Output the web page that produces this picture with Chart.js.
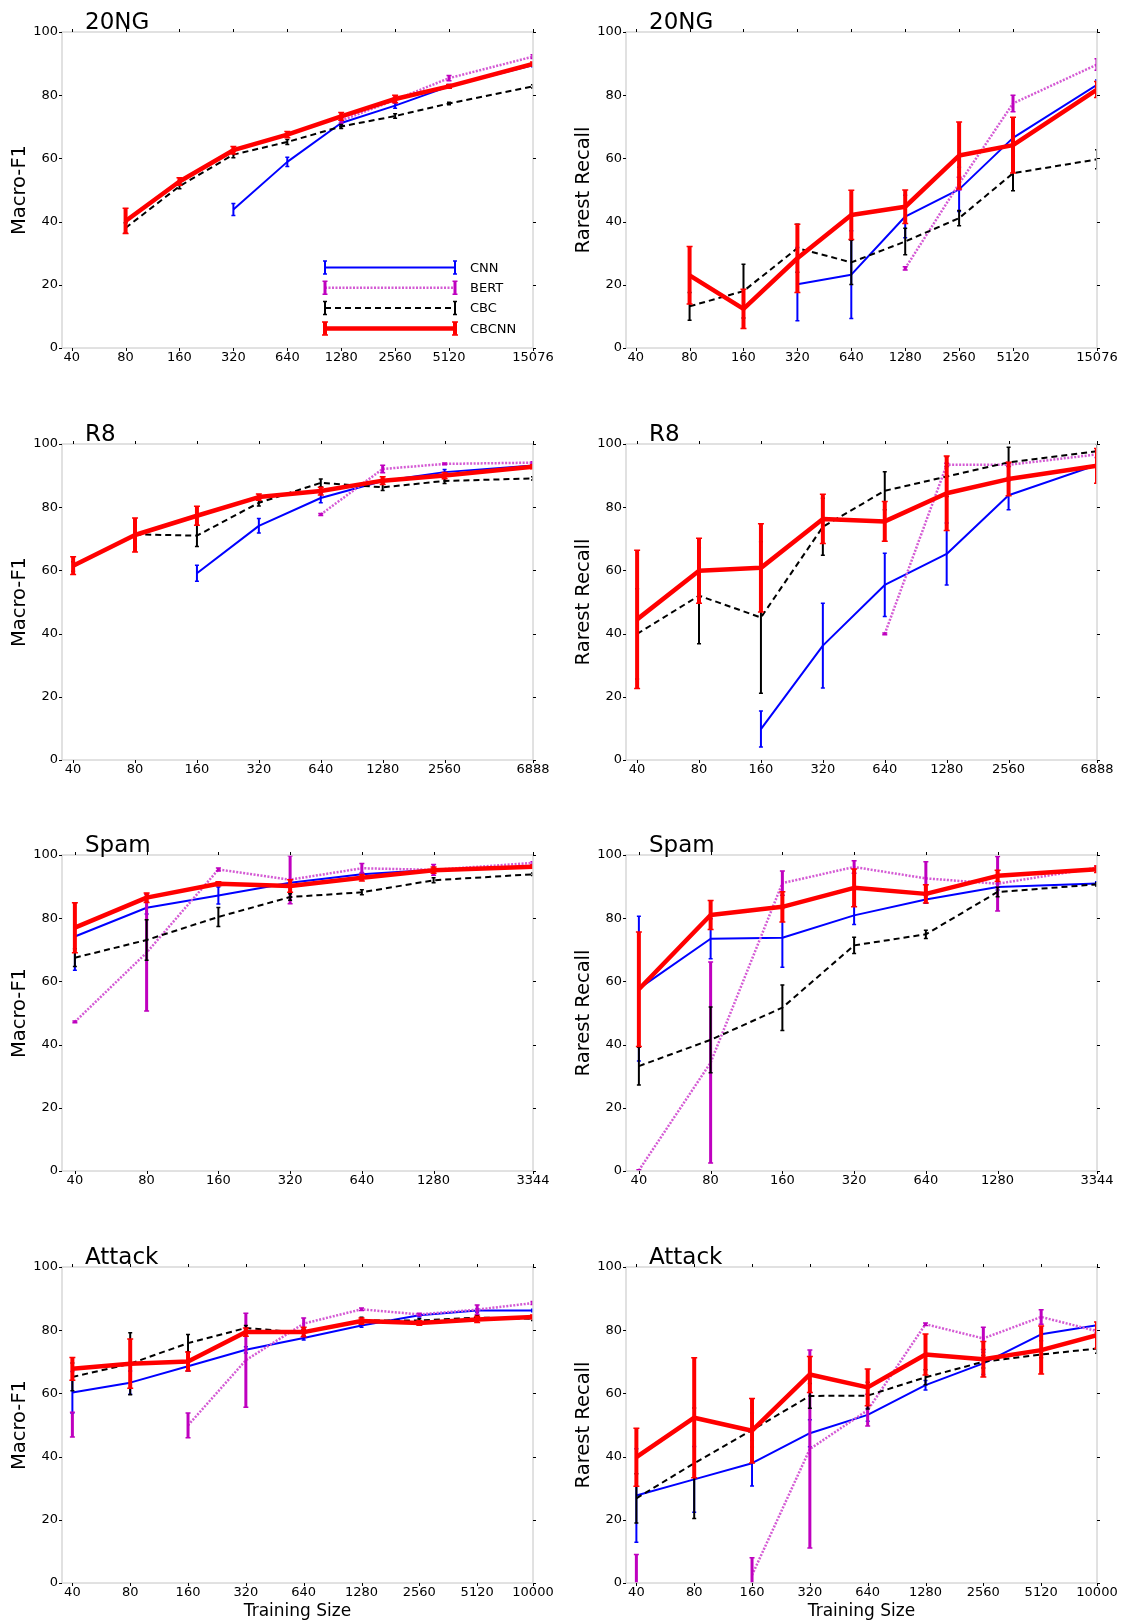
<!DOCTYPE html>
<html>
<head>
<meta charset="utf-8">
<script src="https://cdn.jsdelivr.net/npm/chart.js@4.4.1/dist/chart.umd.min.js"></script>
<style>
  html, body { margin: 0; padding: 0; background: #fff; overflow: hidden; }
  #fig { position: relative; width: 1121px; height: 1621px; overflow: hidden; }
  #fig canvas { position: absolute; }
</style>
</head>
<body>
<div id="fig"></div>
<script>
const FONT = 'DejaVu Sans';
const seriesNames = ['CNN', 'BERT', 'CBC', 'CBCNN'];
const yTicks = [0, 20, 40, 60, 80, 100];

const sizes20NG = [40, 80, 160, 320, 640, 1280, 2560, 5120, 15076];
const sizesR8 = [40, 80, 160, 320, 640, 1280, 2560, 6888];
const sizesSpam = [40, 80, 160, 320, 640, 1280, 3344];
const sizesAttack = [40, 80, 160, 320, 640, 1280, 2560, 5120, 10000];

// 20NG, Macro-F1
const f1_20ng_cnn = [null, null, null, 43.8, 58.9, 71.2, 76.7, 82.8, 89.5];
const f1_20ng_cnn_err = [0, 0, 0, 1.9, 1.5, 0.7, 0.8, 0.6, 0.5];
const f1_20ng_bert = [null, null, null, null, null, 72.0, 78.5, 85.4, 92.2];
const f1_20ng_bert_err = [0, 0, 0, 0, 0, 0.8, 0.8, 0.8, 0.6];
const f1_20ng_cbc = [null, 38.0, 51.2, 61.2, 65.2, 70.1, 73.4, 77.4, 82.8];
const f1_20ng_cbc_err = [0, 1.6, 0.8, 1.0, 0.8, 0.6, 0.7, 0.4, 0.5];
const f1_20ng_cbcnn = [null, 40.2, 52.7, 62.6, 67.5, 73.3, 78.8, 82.8, 89.9];
const f1_20ng_cbcnn_err = [0, 4.0, 1.2, 1.2, 1.0, 1.2, 1.2, 0.6, 0.6];

// 20NG, Rarest Recall
const rr_20ng_cnn = [null, null, null, 20.2, 23.2, 41.6, 50.2, 66.5, 83.3];
const rr_20ng_cnn_err = [0, 0, 0, 11.6, 13.9, 6.7, 7.0, 4.2, 1.5];
const rr_20ng_bert = [null, null, null, null, null, 25.2, 52.0, 77.4, 89.7];
const rr_20ng_bert_err = [0, 0, 0, 0, 0, 0.5, 2.0, 2.6, 1.8];
const rr_20ng_cbc = [null, 13.2, 18.0, 31.6, 27.1, 33.7, 41.1, 55.3, 59.7];
const rr_20ng_cbc_err = [0, 4.4, 8.5, 7.6, 7.0, 4.2, 2.4, 5.5, 3.0];
const rr_20ng_cbcnn = [null, 23.0, 12.4, 28.4, 42.1, 44.7, 60.9, 64.2, 81.8];
const rr_20ng_cbcnn_err = [0, 9.1, 6.2, 10.8, 7.8, 5.3, 10.6, 8.8, 2.5];

// R8, Macro-F1
const f1_r8_cnn = [null, null, 59.1, 74.1, 82.9, 88.3, 91.1, 93.2];
const f1_r8_cnn_err = [0, 0, 2.5, 2.3, 1.5, 0.5, 0.8, 0.4];
const f1_r8_bert = [null, null, null, null, 77.7, 92.1, 93.7, 94.1];
const f1_r8_bert_err = [0, 0, 0, 0, 0.3, 1.2, 0.3, 0.3];
const f1_r8_cbc = [61.2, 71.4, 71.0, 81.4, 87.7, 86.3, 88.3, 89.1];
const f1_r8_cbc_err = [1.5, 3.9, 3.4, 1.0, 1.2, 1.0, 0.8, 0.5];
const f1_r8_cbcnn = [61.5, 71.2, 77.3, 83.2, 85.1, 88.4, 90.0, 92.8];
const f1_r8_cbcnn_err = [2.8, 5.4, 3.0, 1.0, 1.2, 1.2, 1.0, 0.6];

// R8, Rarest Recall
const rr_r8_cnn = [null, null, 9.8, 36.2, 55.4, 65.2, 83.8, 93.4];
const rr_r8_cnn_err = [0, 0, 5.7, 13.4, 10.0, 9.8, 4.6, 1.0];
const rr_r8_bert = [null, null, null, null, 39.9, 93.4, 93.4, 96.7];
const rr_r8_bert_err = [0, 0, 0, 0, 0.3, 0.5, 0.5, 1.0];
const rr_r8_cbc = [39.9, 52.0, 45.1, 73.8, 85.2, 89.7, 94.2, 97.7];
const rr_r8_cbc_err = [14.3, 15.2, 24.0, 9.0, 6.0, 6.3, 4.8, 2.3];
const rr_r8_cbcnn = [44.5, 59.9, 60.8, 76.3, 75.5, 84.4, 88.9, 93.1];
const rr_r8_cbcnn_err = [21.9, 10.3, 14.0, 7.8, 6.3, 11.8, 5.3, 5.5];

// Spam, Macro-F1
const f1_spam_cnn = [74.2, 83.3, 87.2, 91.2, 93.9, 95.3, 96.2];
const f1_spam_cnn_err = [10.7, 2.0, 2.7, 1.0, 0.6, 0.5, 0.4];
const f1_spam_bert = [47.2, 69.1, 95.4, 92.2, 95.8, 95.3, 97.5];
const f1_spam_bert_err = [0.3, 18.5, 0.5, 7.6, 1.5, 1.7, 0.4];
const f1_spam_cbc = [67.5, 73.1, 80.4, 86.7, 88.2, 92.0, 93.9];
const f1_spam_cbc_err = [2.8, 6.4, 3.0, 1.0, 0.8, 0.8, 0.4];
const f1_spam_cbcnn = [77.0, 86.5, 90.9, 90.2, 92.8, 95.2, 96.3];
const f1_spam_cbcnn_err = [7.9, 1.5, 0.6, 2.0, 1.0, 1.0, 0.5];

// Spam, Rarest Recall
const rr_spam_cnn = [57.7, 73.5, 73.8, 80.9, 85.9, 89.9, 91.0];
const rr_spam_cnn_err = [22.9, 6.3, 9.3, 2.9, 1.2, 1.0, 0.5];
const rr_spam_bert = [0.2, 34.3, 91.1, 96.2, 92.6, 90.9, 96.0];
const rr_spam_bert_err = [0.2, 31.8, 3.8, 2.0, 5.3, 8.6, 0.5];
const rr_spam_cbc = [33.2, 41.5, 51.7, 71.4, 74.9, 88.3, 90.7];
const rr_spam_cbc_err = [6.0, 10.4, 7.2, 2.6, 1.3, 1.5, 0.5];
const rr_spam_cbcnn = [57.5, 81.0, 83.6, 89.6, 87.7, 93.4, 95.5];
const rr_spam_cbcnn_err = [18.1, 4.6, 4.8, 6.0, 2.9, 1.8, 1.0];

// Attack, Macro-F1
const f1_attack_cnn = [60.3, 63.4, 68.6, 73.8, 77.5, 81.5, 84.7, 86.2, 86.2];
const f1_attack_cnn_err = [6.6, 3.7, 1.5, 1.0, 0.6, 0.6, 0.5, 0.5, 0.4];
const f1_attack_bert = [50.1, null, 49.9, 70.5, 82.1, 86.6, 85.0, 86.5, 88.6];
const f1_attack_bert_err = [3.9, 0, 3.9, 14.9, 1.8, 0.4, 0.4, 1.5, 0.5];
const f1_attack_cbc = [65.2, 69.4, 75.9, 80.7, 79.2, 83.1, 83.1, 84.0, 83.6];
const f1_attack_cbc_err = [4.4, 9.8, 2.7, 0.8, 1.0, 1.0, 0.5, 0.6, 0.5];
const f1_attack_cbcnn = [67.8, 69.4, 70.1, 79.4, 79.4, 82.9, 82.3, 83.4, 84.2];
const f1_attack_cbcnn_err = [3.6, 7.8, 3.0, 1.3, 1.5, 1.0, 0.7, 1.0, 0.6];

// Attack, Rarest Recall
const rr_attack_cnn = [27.7, 32.8, 37.9, 47.4, 53.2, 62.6, 69.5, 78.7, 81.6];
const rr_attack_cnn_err = [14.8, 10.4, 7.2, 4.3, 2.0, 1.5, 3.5, 2.0, 0.8];
const rr_attack_bert = [3.0, null, 2.5, 42.4, 54.7, 81.9, 77.4, 84.2, 79.7];
const rr_attack_bert_err = [6.0, 0, 5.5, 31.3, 5.0, 0.4, 3.5, 2.3, 0.5];
const rr_attack_cbc = [26.8, 37.9, 48.4, 59.2, 59.3, 65.1, 70.0, 72.3, 74.2];
const rr_attack_cbc_err = [7.8, 17.5, 5.4, 3.9, 4.2, 2.4, 2.0, 1.0, 1.5];
const rr_attack_cbcnn = [39.8, 52.3, 48.2, 66.0, 61.9, 72.3, 70.8, 73.7, 78.4];
const rr_attack_cbcnn_err = [9.2, 19.0, 10.2, 5.7, 5.8, 6.5, 5.6, 7.6, 4.2];

const styles = [
  { color: '#0000ff', width: 2, dash: [], bar: '#0000ff', barWidth: 2 },
  { color: '#d45ad4', width: 2.5, dash: [2, 1.5], bar: '#bf00bf', barWidth: 3 },
  { color: '#000000', width: 2, dash: [6, 4], bar: '#000000', barWidth: 2 },
  { color: '#ff0000', width: 4.5, dash: [], bar: '#ff0000', barWidth: 4 }
];

const panels = [
  { row: 0, col: 0, title: '20NG', ylabel: 'Macro-F1', sizes: sizes20NG, legend: true,
    vals: [f1_20ng_cnn, f1_20ng_bert, f1_20ng_cbc, f1_20ng_cbcnn],
    errs: [f1_20ng_cnn_err, f1_20ng_bert_err, f1_20ng_cbc_err, f1_20ng_cbcnn_err] },
  { row: 0, col: 1, title: '20NG', ylabel: 'Rarest Recall', sizes: sizes20NG,
    vals: [rr_20ng_cnn, rr_20ng_bert, rr_20ng_cbc, rr_20ng_cbcnn],
    errs: [rr_20ng_cnn_err, rr_20ng_bert_err, rr_20ng_cbc_err, rr_20ng_cbcnn_err] },
  { row: 1, col: 0, title: 'R8', ylabel: 'Macro-F1', sizes: sizesR8,
    vals: [f1_r8_cnn, f1_r8_bert, f1_r8_cbc, f1_r8_cbcnn],
    errs: [f1_r8_cnn_err, f1_r8_bert_err, f1_r8_cbc_err, f1_r8_cbcnn_err] },
  { row: 1, col: 1, title: 'R8', ylabel: 'Rarest Recall', sizes: sizesR8,
    vals: [rr_r8_cnn, rr_r8_bert, rr_r8_cbc, rr_r8_cbcnn],
    errs: [rr_r8_cnn_err, rr_r8_bert_err, rr_r8_cbc_err, rr_r8_cbcnn_err] },
  { row: 2, col: 0, title: 'Spam', ylabel: 'Macro-F1', sizes: sizesSpam,
    vals: [f1_spam_cnn, f1_spam_bert, f1_spam_cbc, f1_spam_cbcnn],
    errs: [f1_spam_cnn_err, f1_spam_bert_err, f1_spam_cbc_err, f1_spam_cbcnn_err] },
  { row: 2, col: 1, title: 'Spam', ylabel: 'Rarest Recall', sizes: sizesSpam,
    vals: [rr_spam_cnn, rr_spam_bert, rr_spam_cbc, rr_spam_cbcnn],
    errs: [rr_spam_cnn_err, rr_spam_bert_err, rr_spam_cbc_err, rr_spam_cbcnn_err] },
  { row: 3, col: 0, title: 'Attack', ylabel: 'Macro-F1', sizes: sizesAttack, xlabel: 'Training Size',
    vals: [f1_attack_cnn, f1_attack_bert, f1_attack_cbc, f1_attack_cbcnn],
    errs: [f1_attack_cnn_err, f1_attack_bert_err, f1_attack_cbc_err, f1_attack_cbcnn_err] },
  { row: 3, col: 1, title: 'Attack', ylabel: 'Rarest Recall', sizes: sizesAttack, xlabel: 'Training Size',
    vals: [rr_attack_cnn, rr_attack_bert, rr_attack_cbc, rr_attack_cbcnn],
    errs: [rr_attack_cnn_err, rr_attack_bert_err, rr_attack_cbc_err, rr_attack_cbcnn_err] }
];

// cell geometry
const colX = [0, 560];
const colW = [560, 561];
const axisW = [62, 66];
const padR = [27, 24];
const rowY = [0, 412, 823, 1235];
const cellH = 390;

function drawBar(ctx, x, y1, y2, st) {
  const cap = st.barWidth / 2 + 1;
  ctx.lineWidth = st.barWidth;
  ctx.beginPath();
  ctx.moveTo(x, y1);
  ctx.lineTo(x, y2);
  ctx.stroke();
  ctx.lineWidth = 1.5;
  ctx.beginPath();
  ctx.moveTo(x - cap, y1); ctx.lineTo(x + cap, y1);
  ctx.moveTo(x - cap, y2); ctx.lineTo(x + cap, y2);
  ctx.stroke();
}

function makeDecorations(panel) {
  return {
    id: 'decorations',
    afterDatasetDraw(chart, args) {
      const ds = chart.data.datasets[args.index];
      const st = styles[ds.seriesIndex];
      const a = chart.chartArea;
      const xs = chart.scales.x, ys = chart.scales.y;
      const ctx = chart.ctx;
      ctx.save();
      ctx.beginPath();
      ctx.rect(a.left, a.top, a.right - a.left, a.bottom - a.top);
      ctx.clip();
      ctx.strokeStyle = st.bar;
      ctx.setLineDash([]);
      ds.data.forEach((p, i) => {
        if (p.y === null) return;
        const e = ds.errors[i];
        const x = xs.getPixelForValue(p.x);
        drawBar(ctx, x, ys.getPixelForValue(p.y - e), ys.getPixelForValue(p.y + e), st);
      });
      ctx.restore();
    },
    afterDatasetsDraw(chart) {
      const a = chart.chartArea;
      const ctx = chart.ctx;
      const xs = chart.scales.x, ys = chart.scales.y;
      ctx.save();
      ctx.strokeStyle = '#d8d8d8';
      ctx.lineWidth = 1.5;
      ctx.strokeRect(a.left, a.top, a.right - a.left, a.bottom - a.top);
      ctx.strokeStyle = '#000';
      ctx.lineWidth = 1;
      ctx.beginPath();
      yTicks.forEach(v => {
        const y = Math.round(ys.getPixelForValue(v)) + 0.5;
        ctx.moveTo(a.left - 3, y); ctx.lineTo(a.left, y);
        ctx.moveTo(a.right, y); ctx.lineTo(a.right + 3, y);
      });
      panel.sizes.forEach(v => {
        const x = Math.round(xs.getPixelForValue(v)) + 0.5;
        ctx.moveTo(x, a.bottom); ctx.lineTo(x, a.bottom + 3);
        ctx.moveTo(x, a.top - 3); ctx.lineTo(x, a.top);
      });
      ctx.stroke();
      ctx.restore();
    },
    afterDraw(chart) {
      const a = chart.chartArea;
      const ctx = chart.ctx;
      ctx.save();
      ctx.fillStyle = '#000';
      // panel title
      ctx.font = `23px "${FONT}"`;
      ctx.textAlign = 'left';
      ctx.textBaseline = 'alphabetic';
      ctx.fillText(panel.title, a.left + 23, a.top - 3);
      // y label
      ctx.save();
      ctx.translate(a.left - 42, (a.top + a.bottom) / 2);
      ctx.rotate(-Math.PI / 2);
      ctx.font = `19.5px "${FONT}"`;
      ctx.textAlign = 'center';
      ctx.textBaseline = 'middle';
      ctx.fillText(panel.ylabel, 0, 0);
      ctx.restore();
      // x label
      if (panel.xlabel) {
        ctx.font = `17px "${FONT}"`;
        ctx.textAlign = 'center';
        ctx.textBaseline = 'middle';
        ctx.fillText(panel.xlabel, (a.left + a.right) / 2, a.bottom + 29);
      }
      // legend
      if (panel.legend) {
        const x1 = a.right - 208, x2 = a.right - 78;
        seriesNames.forEach((name, i) => {
          const st = styles[i];
          const y = a.bottom - 80.5 + i * 20.3;
          ctx.strokeStyle = st.color;
          ctx.lineWidth = st.width;
          ctx.setLineDash(st.dash);
          ctx.beginPath();
          ctx.moveTo(x1, y); ctx.lineTo(x2, y);
          ctx.stroke();
          ctx.setLineDash([]);
          ctx.strokeStyle = st.bar;
          drawBar(ctx, x1, y - 6.5, y + 6.5, st);
          drawBar(ctx, x2, y - 6.5, y + 6.5, st);
          ctx.font = `13px "${FONT}"`;
          ctx.textAlign = 'left';
          ctx.textBaseline = 'middle';
          ctx.fillStyle = '#000';
          ctx.fillText(name, x2 + 15, y + 1);
        });
      }
      ctx.restore();
    }
  };
}

Chart.defaults.color = '#000';
Chart.defaults.font.family = FONT;

const fig = document.getElementById('fig');

panels.forEach(panel => {
  const canvas = document.createElement('canvas');
  canvas.width = colW[panel.col];
  canvas.height = cellH;
  canvas.style.left = colX[panel.col] + 'px';
  canvas.style.top = rowY[panel.row] + 'px';
  fig.appendChild(canvas);

  const datasets = seriesNames.map((name, si) => ({
    label: name,
    seriesIndex: si,
    order: 4 - si,
    data: panel.sizes.map((s, i) => ({ x: s, y: panel.vals[si][i] })),
    errors: panel.errs[si],
    borderColor: styles[si].color,
    backgroundColor: styles[si].color,
    borderWidth: styles[si].width,
    borderDash: styles[si].dash,
    borderJoinStyle: 'round',
    pointRadius: 0,
    pointHoverRadius: 0,
    tension: 0,
    fill: false,
    spanGaps: false
  }));

  const sizes = panel.sizes;

  new Chart(canvas, {
    type: 'line',
    data: { datasets },
    options: {
      responsive: false,
      animation: false,
      events: [],
      layout: { padding: { left: 0, right: padR[panel.col], top: 32, bottom: 0 } },
      plugins: {
        legend: { display: false },
        tooltip: { enabled: false }
      },
      scales: {
        x: {
          type: 'logarithmic',
          bounds: 'data',
          min: sizes[0] * 0.883,
          max: sizes[sizes.length - 1],
          grid: { display: false, drawTicks: false },
          border: { display: false },
          afterBuildTicks: scale => { scale.ticks = sizes.map(v => ({ value: v })); },
          afterFit: scale => { scale.height = 42; scale.paddingLeft = 0; scale.paddingRight = 0; },
          ticks: {
            autoSkip: false, maxRotation: 0, minRotation: 0, padding: 2,
            font: { size: 13 },
            callback: v => String(v)
          }
        },
        y: {
          type: 'linear',
          bounds: 'data',
          min: 0,
          max: 100,
          grid: { display: false, drawTicks: false },
          border: { display: false },
          afterBuildTicks: scale => { scale.ticks = yTicks.map(v => ({ value: v })); },
          afterFit: scale => { scale.width = axisW[panel.col]; scale.paddingTop = 0; scale.paddingBottom = 0; },
          ticks: { padding: 4, font: { size: 13 } }
        }
      }
    },
    plugins: [makeDecorations(panel)]
  });
});
</script>
</body>
</html>
